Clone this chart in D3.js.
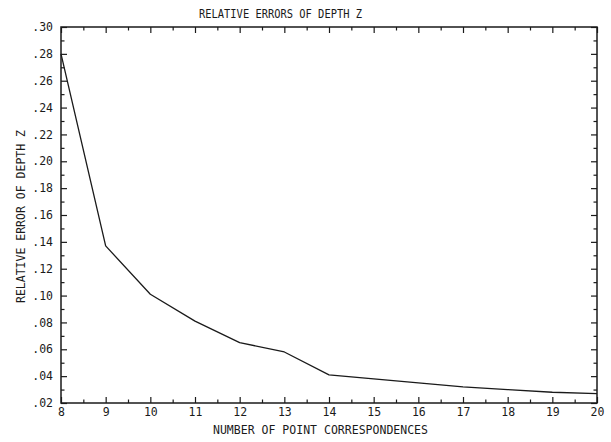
<!DOCTYPE html>
<html>
<head>
<meta charset="utf-8">
<script src="https://cdn.jsdelivr.net/npm/d3@7"></script>
<style>
  html, body { margin: 0; padding: 0; background: #fff; }
  svg { display: block; }
  text { font-family: "DejaVu Sans Mono", "Liberation Mono", monospace; fill: #1a1a1a; }
</style>
</head>
<body>
<svg id="chart" width="611" height="442"></svg>
<script>
// Number of point correspondences used for the depth estimate
const pointCounts = [8, 9, 10, 11, 12, 13, 14, 15, 16, 17, 18, 19, 20];
// Relative error of the recovered depth Z
const relativeError = [0.280, 0.137, 0.101, 0.081, 0.065, 0.058, 0.041, 0.038, 0.035, 0.032, 0.030, 0.028, 0.027];

const xTicks = [8, 9, 10, 11, 12, 13, 14, 15, 16, 17, 18, 19, 20];
const yTicks = [0.02, 0.04, 0.06, 0.08, 0.10, 0.12, 0.14, 0.16, 0.18, 0.20, 0.22, 0.24, 0.26, 0.28, 0.30];
const yTickLabels = [".02", ".04", ".06", ".08", ".10", ".12", ".14", ".16", ".18", ".20", ".22", ".24", ".26", ".28", ".30"];

const titleText = "RELATIVE ERRORS OF DEPTH Z";
const xLabelText = "NUMBER OF POINT CORRESPONDENCES";
const yLabelText = "RELATIVE ERROR OF DEPTH Z";

const svg = d3.select("#chart");
const plotLeft = 61, plotRight = 597, plotTop = 27, plotBottom = 403;
const ink = "#1a1a1a";

const x = d3.scaleLinear().domain([8, 20]).range([plotLeft, plotRight]);
const y = d3.scaleLinear().domain([0.02, 0.30]).range([plotBottom, plotTop]);

const minorX = d3.range(8.5, 20, 1);
const minorY = d3.range(0.03, 0.30, 0.02);

function styleAxis(g) {
  g.select(".domain").remove();
  g.selectAll(".tick line").attr("stroke", ink).attr("stroke-width", 1.2);
  g.selectAll(".tick text").attr("fill", ink).attr("font-family", null).style("font-size", "11.5px");
}

// Bottom axis: labels below, ticks pointing into the plot
svg.append("g")
  .attr("transform", `translate(0,${plotBottom})`)
  .call(d3.axisBottom(x).tickValues(xTicks).tickFormat(d3.format("d")).tickSize(-6).tickPadding(5))
  .call(styleAxis);
svg.append("g")
  .attr("transform", `translate(0,${plotBottom})`)
  .call(d3.axisBottom(x).tickValues(minorX).tickFormat("").tickSize(-3.5))
  .call(styleAxis);

// Top axis: inward ticks only
svg.append("g")
  .attr("transform", `translate(0,${plotTop})`)
  .call(d3.axisTop(x).tickValues(xTicks).tickFormat("").tickSize(-6))
  .call(styleAxis);
svg.append("g")
  .attr("transform", `translate(0,${plotTop})`)
  .call(d3.axisTop(x).tickValues(minorX).tickFormat("").tickSize(-3.5))
  .call(styleAxis);

// Left axis with labels
svg.append("g")
  .attr("transform", `translate(${plotLeft},0)`)
  .call(d3.axisLeft(y).tickValues(yTicks).tickFormat((d, i) => yTickLabels[i]).tickSize(-6).tickPadding(8))
  .call(styleAxis);
svg.append("g")
  .attr("transform", `translate(${plotLeft},0)`)
  .call(d3.axisLeft(y).tickValues(minorY).tickFormat("").tickSize(-3.5))
  .call(styleAxis);

// Right axis: inward ticks only
svg.append("g")
  .attr("transform", `translate(${plotRight},0)`)
  .call(d3.axisRight(y).tickValues(yTicks).tickFormat("").tickSize(-6))
  .call(styleAxis);
svg.append("g")
  .attr("transform", `translate(${plotRight},0)`)
  .call(d3.axisRight(y).tickValues(minorY).tickFormat("").tickSize(-3.5))
  .call(styleAxis);

// Frame
svg.append("rect")
  .attr("x", plotLeft).attr("y", plotTop)
  .attr("width", plotRight - plotLeft).attr("height", plotBottom - plotTop)
  .attr("fill", "none").attr("stroke", ink).attr("stroke-width", 1.5);

// Error curve
const line = d3.line()
  .x((d, i) => x(pointCounts[i]))
  .y(d => y(d));

svg.append("path")
  .datum(relativeError)
  .attr("d", line)
  .attr("fill", "none")
  .attr("stroke", ink)
  .attr("stroke-width", 1.3)
  .attr("stroke-linejoin", "round");

// Title and axis titles
svg.append("text")
  .attr("x", 199).attr("y", 17.5)
  .attr("textLength", 163).attr("lengthAdjust", "spacingAndGlyphs")
  .style("font-size", "11.5px")
  .text(titleText);

svg.append("text")
  .attr("x", 213).attr("y", 434)
  .attr("textLength", 215).attr("lengthAdjust", "spacingAndGlyphs")
  .style("font-size", "11.5px")
  .text(xLabelText);

svg.append("text")
  .attr("transform", "translate(25,303) rotate(-90)")
  .attr("textLength", 173).attr("lengthAdjust", "spacingAndGlyphs")
  .style("font-size", "11.5px")
  .text(yLabelText);
</script>
</body>
</html>
